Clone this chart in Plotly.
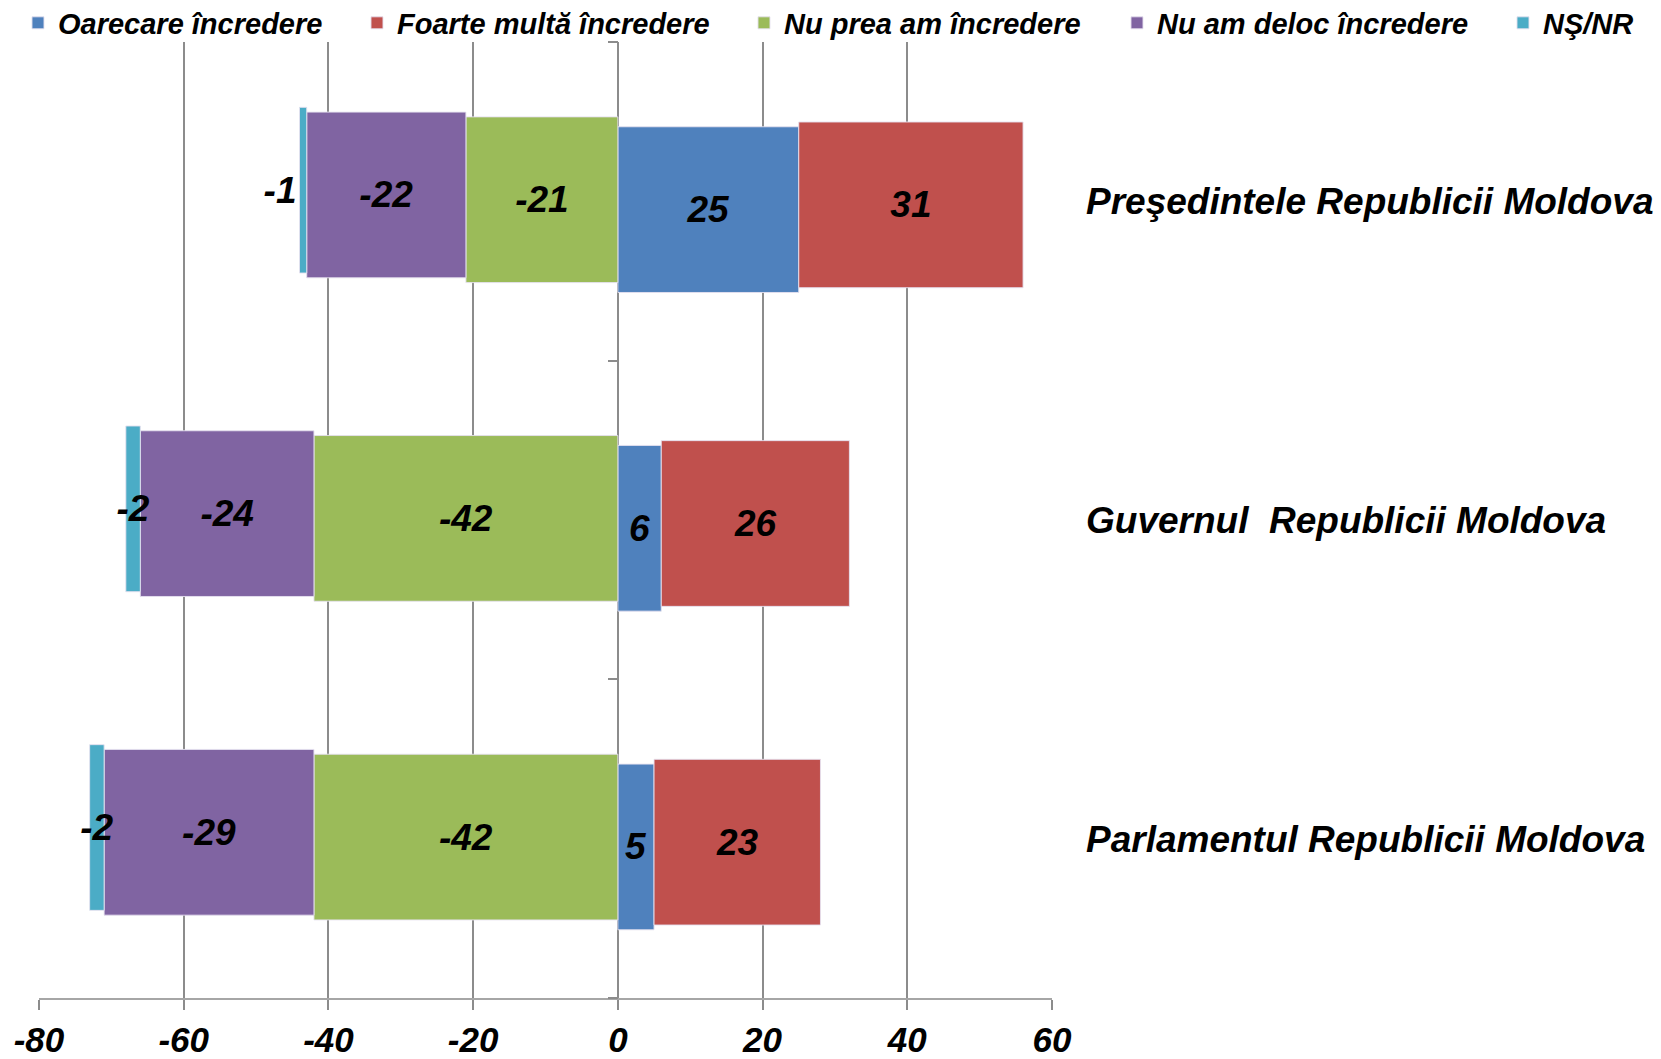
import numpy as np
import plotly.graph_objects as go

# ---------------- data ----------------
categories = [
    "Preşedintele Republicii Moldova",
    "Guvernul\u00a0 Republicii Moldova",
    "Parlamentul Republicii Moldova",
]
series_names = [
    "Oarecare încredere",
    "Foarte multă încredere",
    "Nu prea am încredere",
    "Nu am deloc încredere",
    "NŞ/NR",
]
oarecare = [25, 6, 5]
foarte = [31, 26, 23]
nu_prea = [-21, -42, -42]
nu_deloc = [-22, -24, -29]
ns_nr = [-1, -2, -2]
x_ticks = [-80, -60, -40, -20, 0, 20, 40, 60]
x_tick_labels = ["-80", "-60", "-40", "-20", "0", "20", "40", "60"]

# ---------------- styling ----------------
colors = ["#4F81BD", "#C0504D", "#9BBB59", "#8064A2", "#4BACC6"]
shifts = [0.026, 0.011, -0.005, -0.020, -0.035]
legend_widths = [294, 342, 328, 341, 100]
legend_ids = ["legend", "legend", "legend", "legend", "legend2"]
FONT = "Liberation Sans, Arial, sans-serif"
BAR_W = 0.52
GRID = "#8c8c8c"

pos = np.arange(len(categories))
vals = [np.array(v) for v in (oarecare, foarte, nu_prea, nu_deloc, ns_nr)]
bases = [
    np.zeros(len(categories)),
    vals[0],
    np.zeros(len(categories)),
    vals[2],
    vals[2] + vals[3],
]
text_positions = [
    "inside",
    "inside",
    "inside",
    "inside",
    ["outside", "inside", "inside"],
]

lab_font = dict(family=FONT, size=37, color="black", weight="bold", style="italic")
cat_font = dict(family=FONT, size=37, color="black", weight="bold", style="italic")
leg_font = dict(family=FONT, size=29, color="black", weight="bold", style="italic")

fig = go.Figure()
for name, v, b, c, s, lw, tp, lg in zip(series_names, vals, bases, colors, shifts,
                                        legend_widths, text_positions, legend_ids):
    fig.add_trace(go.Bar(
        name=name, orientation="h", y=pos, x=v, base=b,
        width=BAR_W, offset=-BAR_W / 2 + s,
        marker=dict(color=c, line=dict(color="rgba(230,225,240,0.9)", width=1)),
        text=[str(t) for t in v], textposition=tp, textangle=0,
        constraintext="none", insidetextanchor="middle",
        textfont=lab_font, insidetextfont=lab_font, outsidetextfont=lab_font,
        cliponaxis=False, legendwidth=lw, legend=lg, hoverinfo="x+name",
    ))

# helper trace so the zero-axis (category boundary ticks) is drawn
fig.add_trace(go.Scatter(x=[None], y=[None], yaxis="y2", showlegend=False,
                         hoverinfo="skip"))

xmin, xmax = x_ticks[0], x_ticks[-1]
LEG_X = 1.4452
LEG_Y = 1.0199
fig.update_layout(
    width=1661, height=1059,
    paper_bgcolor="white", plot_bgcolor="white",
    barmode="overlay",
    margin=dict(l=39, r=609, t=42, b=61, autoexpand=False),
    font=dict(family=FONT, color="black"),
    xaxis=dict(
        range=[xmin, xmax], tickvals=x_ticks, ticktext=x_tick_labels,
        showgrid=True, gridcolor=GRID, gridwidth=1.5,
        zeroline=False, showline=True, linecolor="#a6a6a6", linewidth=2,
        ticks="outside", ticklen=10, tickcolor=GRID, tickwidth=1.5,
        tickfont=dict(family=FONT, size=35, color="black", weight="bold", style="italic"),
        ticklabelstandoff=0,
    ),
    yaxis=dict(
        range=[len(categories) - 0.5, -0.5], side="right",
        tickvals=pos, ticktext=categories, ticks="",
        showgrid=False, zeroline=False, showline=False,
        tickfont=cat_font, ticklabelstandoff=33,
    ),
    yaxis2=dict(
        overlaying="y", anchor="free",
        position=(0 - xmin) / (xmax - xmin), side="left",
        range=[len(categories) - 0.5, -0.5],
        tickvals=list(np.arange(len(categories) + 1) - 0.5),
        ticks="outside", ticklen=10, tickcolor=GRID, tickwidth=1.5,
        showticklabels=False, showgrid=False, zeroline=False, showline=False,
    ),
    legend=dict(
        orientation="h", x=LEG_X, xref="paper", xanchor="right",
        y=LEG_Y, yref="paper", yanchor="middle",
        font=leg_font, bgcolor="rgba(0,0,0,0)", itemwidth=30,
        traceorder="normal", borderwidth=0,
    ),
    legend2=dict(
        orientation="h", x=LEG_X, xref="paper", xanchor="left",
        y=LEG_Y, yref="paper", yanchor="middle",
        font=leg_font, bgcolor="rgba(0,0,0,0)", itemwidth=30,
        traceorder="normal", borderwidth=0,
    ),
    showlegend=True,
)

fig.write_html(
    "out.html",
    config={"displayModeBar": False},
    post_script="document.body.style.margin='0';document.body.style.overflow='hidden';",
)
